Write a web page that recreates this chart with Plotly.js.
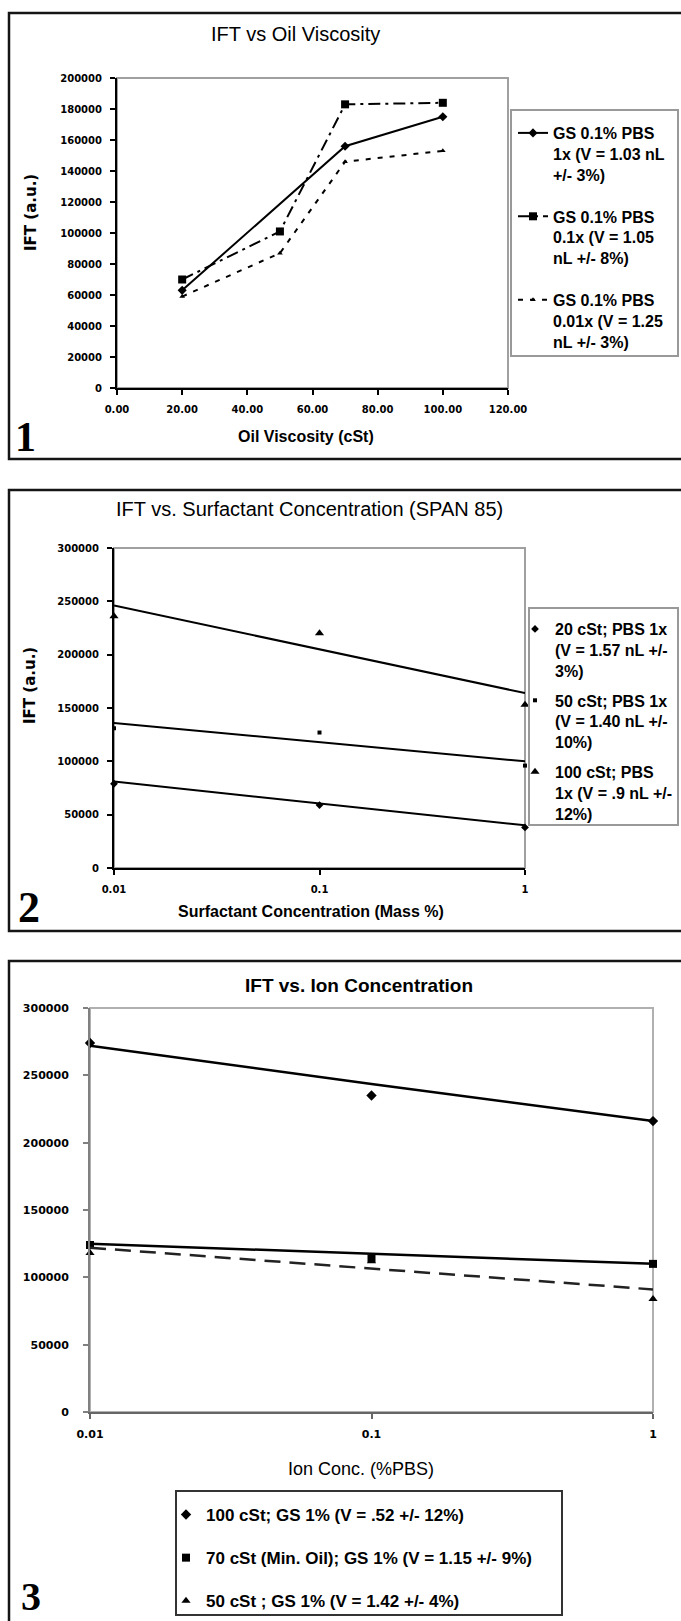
<!DOCTYPE html>
<html><head><meta charset="utf-8">
<script src="https://cdn.plot.ly/plotly-3.0.1.min.js"></script>
<style>html,body{margin:0;padding:0;background:#fff}#chart{width:681px;height:1621px}</style>
</head><body><div id="chart"></div>
<script>
// ---------- Panel 1 : IFT vs Oil Viscosity ----------
const visc1x = [20, 70, 100];
const iftPbs1x = [63000, 156000, 175000];
const viscX = [20, 50, 70, 100];
const iftPbs01x = [70000, 101000, 183000, 184000];
const iftPbs001x = [59000, 87000, 146000, 153000];
const p1Names = [
  'GS 0.1% PBS<br>1x (V = 1.03 nL<br>+/- 3%)',
  'GS 0.1% PBS<br>0.1x (V = 1.05<br>nL +/- 8%)',
  'GS 0.1% PBS<br>0.01x (V = 1.25<br>nL +/- 3%)'
];
// ---------- Panel 2 : IFT vs Surfactant concentration ----------
const surfConc = [0.01, 0.1, 1];
const ift20cSt = [79000, 59000, 38000];
const ift50cSt = [131000, 127000, 96000];
const ift100cSt = [236000, 220000, 153000];
const trendX2 = [0.01, 1];
const trend20cSt = [81000, 40000];
const trend50cSt = [136000, 100000];
const trend100cSt = [246000, 164000];
const p2Names = [
  '20 cSt; PBS 1x<br>(V = 1.57 nL +/-<br>3%)',
  '50 cSt; PBS 1x<br>(V = 1.40 nL +/-<br>10%)',
  '100 cSt; PBS<br>1x (V = .9 nL +/-<br>12%)'
];
// ---------- Panel 3 : IFT vs Ion concentration ----------
const ionConc = [0.01, 0.1, 1];
const ion100cSt = [274000, 235000, 216000];
const ion70cSt = [124000, 114000, 110000];
const ion50cSt = [118000, 112000, 84000];
const ionTrend100 = [272000, 243500, 216000];
const ionTrendX = [0.01, 1];
const ionTrend70 = [125000, 110000];
const ionTrend50 = [122000, 91000];
const p3Names = [
  '100 cSt; GS 1% (V = .52 +/- 12%)',
  '70 cSt (Min. Oil); GS 1% (V = 1.15 +/- 9%)',
  '50 cSt ; GS 1% (V = 1.42 +/- 4%)'
];
const logTickVals = [0.01, 0.1, 1];
const logTickText = ['0.01', '0.1', '1'];

// ---------- layout helpers ----------
const W = 681, H = 1621;
const px = v => v / W;
const py = v => 1 - v / H;
const SANS = 'Liberation Sans, Arial, sans-serif';
const TICKF = {family: 'DejaVu Sans', size: 10, color: '#000', weight: 'bold'};

const traces = [
  // panel 1
  {x: visc1x, y: iftPbs1x, xaxis: 'x', yaxis: 'y', mode: 'lines+markers', name: p1Names[0], legend: 'legend', legendgroup: 'a1',
   line: {color: '#000', width: 2}, marker: {symbol: 'diamond', size: 7, color: '#000'}, cliponaxis: false},
  {x: viscX, y: iftPbs01x, xaxis: 'x', yaxis: 'y', mode: 'lines+markers', name: p1Names[1], legend: 'legend', legendgroup: 'a2',
   line: {color: '#000', width: 2, dash: '12px,5px,3px,5px'}, marker: {symbol: 'square', size: 8, color: '#000'}, cliponaxis: false},
  {x: viscX, y: iftPbs001x, xaxis: 'x', yaxis: 'y', mode: 'lines+markers', name: p1Names[2], legend: 'legend', legendgroup: 'a3',
   line: {color: '#000', width: 2, dash: '5px,7px'}, marker: {symbol: 'triangle-up', size: 5, color: '#000'}, cliponaxis: false},
  // panel 2 points
  {x: surfConc, y: ift20cSt, xaxis: 'x2', yaxis: 'y2', mode: 'markers', name: p2Names[0], legend: 'legend2', legendgroup: 'b1',
   marker: {symbol: 'diamond', size: 6, color: '#000'}, cliponaxis: false},
  {x: surfConc, y: ift50cSt, xaxis: 'x2', yaxis: 'y2', mode: 'markers', name: p2Names[1], legend: 'legend2', legendgroup: 'b2',
   marker: {symbol: 'square', size: 4, color: '#000'}, cliponaxis: false},
  {x: surfConc, y: ift100cSt, xaxis: 'x2', yaxis: 'y2', mode: 'markers', name: p2Names[2], legend: 'legend2', legendgroup: 'b3',
   marker: {symbol: 'triangle-up', size: 8, color: '#000'}, cliponaxis: false},
  // panel 2 trendlines
  {x: trendX2, y: trend20cSt, xaxis: 'x2', yaxis: 'y2', mode: 'lines', showlegend: false, line: {color: '#000', width: 2}},
  {x: trendX2, y: trend50cSt, xaxis: 'x2', yaxis: 'y2', mode: 'lines', showlegend: false, line: {color: '#000', width: 2}},
  {x: trendX2, y: trend100cSt, xaxis: 'x2', yaxis: 'y2', mode: 'lines', showlegend: false, line: {color: '#000', width: 2}},
  // panel 3 points
  {x: ionConc, y: ion100cSt, xaxis: 'x3', yaxis: 'y3', mode: 'markers', name: p3Names[0], legend: 'legend3', legendgroup: 'c1',
   marker: {symbol: 'diamond', size: 8, color: '#000'}, cliponaxis: false},
  {x: ionConc, y: ion70cSt, xaxis: 'x3', yaxis: 'y3', mode: 'markers', name: p3Names[1], legend: 'legend3', legendgroup: 'c2',
   marker: {symbol: 'square', size: 8, color: '#000'}, cliponaxis: false},
  {x: ionConc, y: ion50cSt, xaxis: 'x3', yaxis: 'y3', mode: 'markers', name: p3Names[2], legend: 'legend3', legendgroup: 'c3',
   marker: {symbol: 'triangle-up', size: 8, color: '#000'}, cliponaxis: false},
  // panel 3 trendlines
  {x: ionConc, y: ionTrend100, xaxis: 'x3', yaxis: 'y3', mode: 'lines', showlegend: false, line: {color: '#000', width: 2.5, shape: 'spline'}},
  {x: ionTrendX, y: ionTrend70, xaxis: 'x3', yaxis: 'y3', mode: 'lines', showlegend: false, line: {color: '#000', width: 2.5}},
  {x: ionTrendX, y: ionTrend50, xaxis: 'x3', yaxis: 'y3', mode: 'lines', showlegend: false, line: {color: '#222', width: 2.5, dash: '16px,9px'}}
];

function linAxis(extra) {
  return Object.assign({showline: true, linecolor: '#000', linewidth: 2, ticks: 'outside', ticklen: 5, tickwidth: 2,
    tickcolor: '#000', showgrid: false, zeroline: false, tickfont: TICKF, ticklabelstandoff: 6, fixedrange: true}, extra);
}

const layout = {
  width: W, height: H, margin: {l: 0, r: 0, t: 0, b: 0}, paper_bgcolor: '#fff', plot_bgcolor: '#fff',
  font: {family: SANS, color: '#000'},
  xaxis: linAxis({domain: [px(117), px(508)], range: [0, 120], dtick: 20, tickformat: '.2f', anchor: 'y'}),
  yaxis: linAxis({domain: [py(388), py(78)], range: [0, 200000], dtick: 20000, tickformat: 'd', anchor: 'x'}),
  xaxis2: linAxis({domain: [px(114), px(525)], type: 'log', range: [-2, 0], tickvals: logTickVals, ticktext: logTickText, anchor: 'y2'}),
  yaxis2: linAxis({domain: [py(868), py(548)], range: [0, 300000], dtick: 50000, tickformat: 'd', anchor: 'x2'}),
  xaxis3: linAxis({domain: [px(90), px(653)], type: 'log', range: [-2, 0], tickvals: logTickVals, ticktext: logTickText, anchor: 'y3',
    linecolor: '#666', tickcolor: '#666', tickfont: {family: 'DejaVu Sans', size: 11, color: '#000', weight: 'bold'}}),
  yaxis3: linAxis({domain: [py(1412), py(1008)], range: [0, 300000], dtick: 50000, tickformat: 'd', anchor: 'x3',
    linecolor: '#808080', tickcolor: '#808080', ticklabelstandoff: 12, tickfont: {family: 'DejaVu Sans', size: 11, color: '#000', weight: 'bold'}}),
  legend: {x: px(513), y: py(116), xanchor: 'left', yanchor: 'top', bgcolor: 'rgba(0,0,0,0)', borderwidth: 0,
    font: {family: SANS, size: 16, weight: 'bold', color: '#000'}, valign: 'top', tracegroupgap: 18, traceorder: 'grouped'},
  legend2: {x: px(515), y: py(612), xanchor: 'left', yanchor: 'top', bgcolor: 'rgba(0,0,0,0)', borderwidth: 0,
    font: {family: SANS, size: 16, weight: 'bold', color: '#000'}, valign: 'top', tracegroupgap: 6, traceorder: 'grouped'},
  legend3: {x: px(166), y: py(1497), xanchor: 'left', yanchor: 'top', bgcolor: 'rgba(0,0,0,0)', borderwidth: 0,
    font: {family: SANS, size: 17, weight: 'bold', color: '#000'}, valign: 'middle', tracegroupgap: 18, traceorder: 'grouped'},
  shapes: [
    // panel frames
    {type: 'rect', xref: 'paper', yref: 'paper', x0: px(9), x1: px(690), y0: py(459), y1: py(13), line: {color: '#151515', width: 2.5}},
    {type: 'rect', xref: 'paper', yref: 'paper', x0: px(9), x1: px(690), y0: py(931), y1: py(490), line: {color: '#151515', width: 2.5}},
    {type: 'rect', xref: 'paper', yref: 'paper', x0: px(9), x1: px(690), y0: py(1640), y1: py(961), line: {color: '#151515', width: 2.5}},
    // plot area outlines
    {type: 'rect', xref: 'x domain', yref: 'y domain', x0: 0, x1: 1, y0: 0, y1: 1, layer: 'below', line: {color: '#a0a0a0', width: 2}},
    {type: 'rect', xref: 'x2 domain', yref: 'y2 domain', x0: 0, x1: 1, y0: 0, y1: 1, layer: 'below', line: {color: '#a0a0a0', width: 2}},
    {type: 'rect', xref: 'x3 domain', yref: 'y3 domain', x0: 0, x1: 1, y0: 0, y1: 1, layer: 'below', line: {color: '#b0b0b0', width: 2}},
    // legend boxes
    {type: 'rect', xref: 'paper', yref: 'paper', x0: px(511), x1: px(678), y0: py(356), y1: py(110), line: {color: '#999', width: 2}},
    {type: 'rect', xref: 'paper', yref: 'paper', x0: px(529), x1: px(678), y0: py(825), y1: py(608), line: {color: '#999', width: 2}},
    {type: 'rect', xref: 'paper', yref: 'paper', x0: px(176), x1: px(562), y0: py(1615), y1: py(1491), line: {color: '#333', width: 2}}
  ],
  annotations: [
    {text: 'IFT vs Oil Viscosity', x: px(295), y: py(34), font: {size: 20}},
    {text: 'Oil Viscosity (cSt)', x: px(306), y: py(437), font: {size: 16, weight: 'bold'}},
    {text: 'IFT (a.u.)', x: px(31), y: py(213), textangle: -90, font: {family: 'DejaVu Sans', size: 15, weight: 'bold'}},
    {text: '1', x: px(25), y: py(437), font: {family: 'Liberation Serif', size: 42, weight: 'bold'}},
    {text: 'IFT vs. Surfactant Concentration (SPAN 85)', x: px(309), y: py(509), font: {size: 20}},
    {text: 'Surfactant Concentration (Mass %)', x: px(311), y: py(912), font: {size: 16, weight: 'bold'}},
    {text: 'IFT (a.u.)', x: px(30), y: py(686), textangle: -90, font: {family: 'DejaVu Sans', size: 15, weight: 'bold'}},
    {text: '2', x: px(29), y: py(907), font: {family: 'Liberation Serif', size: 44, weight: 'bold'}},
    {text: 'IFT vs. Ion Concentration', x: px(359), y: py(985), font: {size: 19, weight: 'bold'}},
    {text: 'Ion Conc. (%PBS)', x: px(361), y: py(1469), font: {size: 18}},
    {text: '3', x: px(31), y: py(1596), font: {family: 'Liberation Serif', size: 40, weight: 'bold'}}
  ].map(a => Object.assign({xref: 'paper', yref: 'paper', xanchor: 'center', yanchor: 'middle', showarrow: false}, a,
        {font: Object.assign({family: SANS, color: '#000'}, a.font)}))
};

Plotly.newPlot('chart', traces, layout, {displayModeBar: false, staticPlot: true});
</script>
</body></html>
